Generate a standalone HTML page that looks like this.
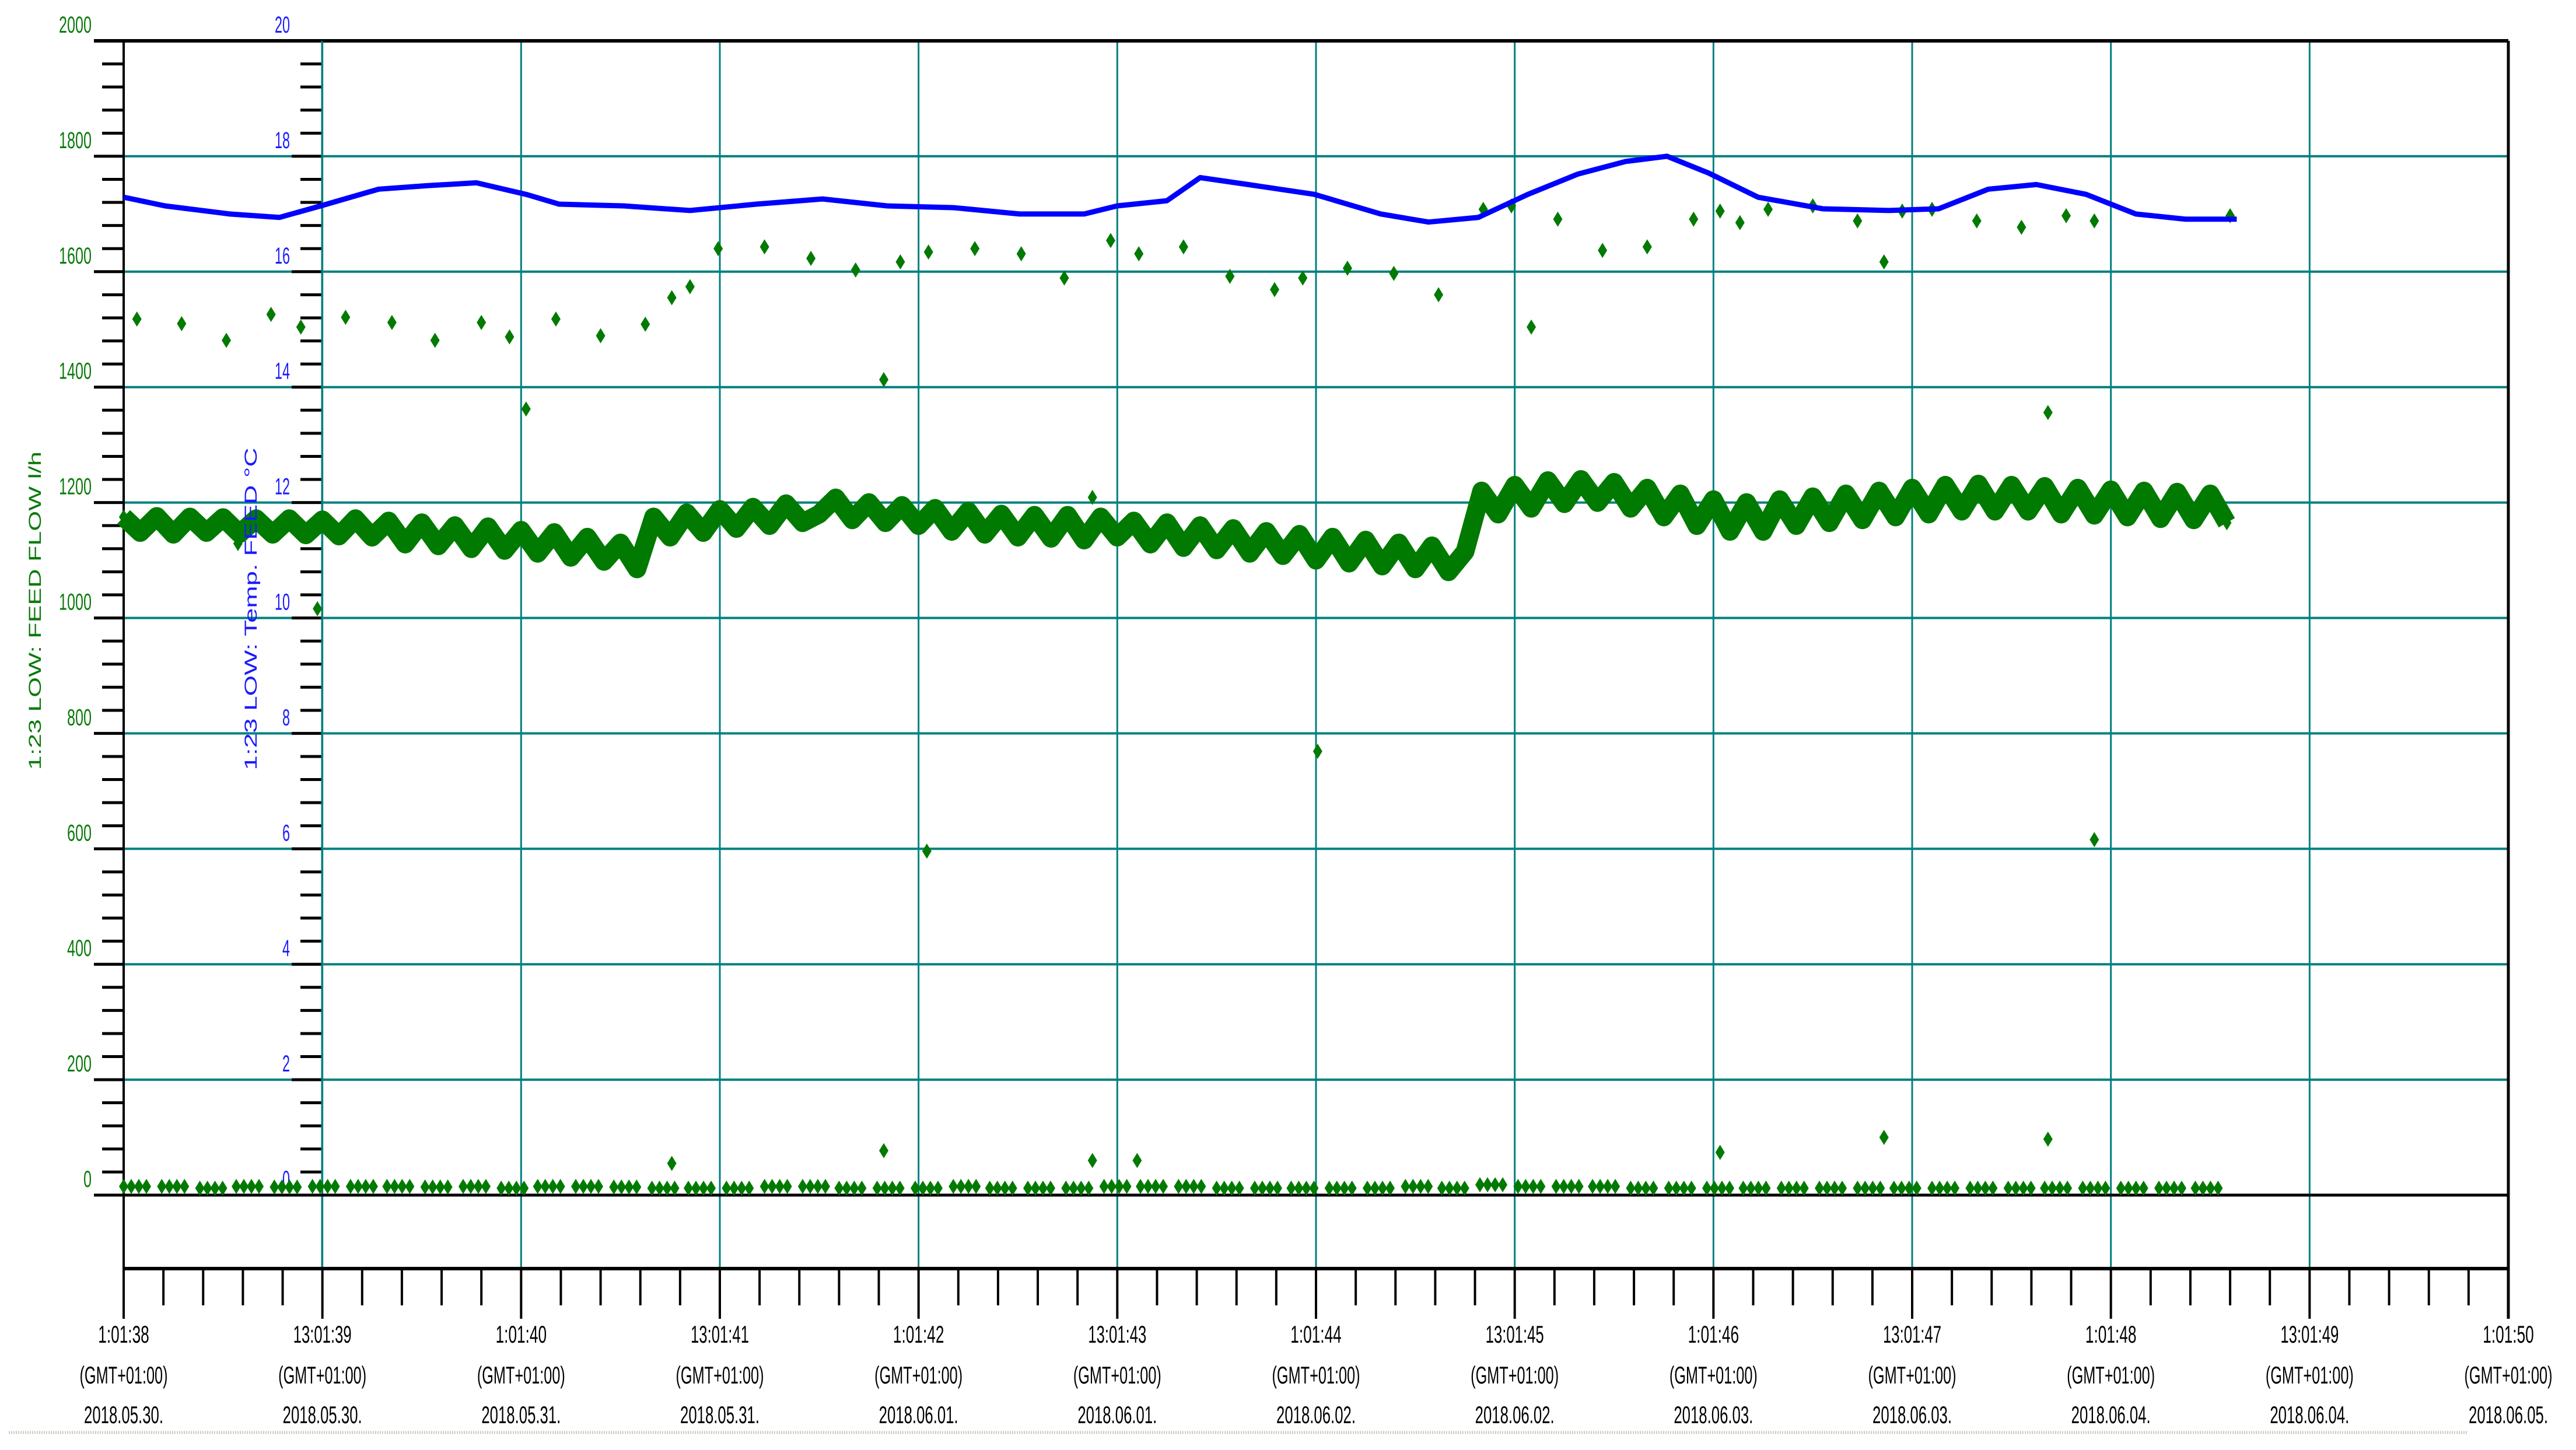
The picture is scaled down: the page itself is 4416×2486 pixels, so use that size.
<!DOCTYPE html>
<html><head><meta charset="utf-8"><style>
html,body{margin:0;padding:0;background:#fff;}
svg{display:block;}
text{font-family:"Liberation Sans Narrow","Liberation Sans",sans-serif;}
</style></head><body>
<svg id="chart" width="4416" height="2486" viewBox="0 0 4416 2486" xmlns="http://www.w3.org/2000/svg">
<g id="grid"></g>
<g id="axes"></g>
<g id="series"></g>
<text x="0" y="0" transform="translate(70,1047) rotate(-90)" text-anchor="middle" font-size="30" fill="#0a7a0a" textLength="546" lengthAdjust="spacingAndGlyphs" style="font-family:'Liberation Sans',sans-serif">1:23 LOW: FEED FLOW l/h</text>
<text x="0" y="0" transform="translate(440,1044) rotate(-90)" text-anchor="middle" font-size="30" fill="#1a1aff" textLength="553" lengthAdjust="spacingAndGlyphs" style="font-family:'Liberation Sans',sans-serif">1:23 LOW: Temp. FEED °C</text>
<line x1="15" y1="2456" x2="4230" y2="2456" stroke="#cfc8c0" stroke-width="5" stroke-dasharray="2,2"/>
</svg>
<script>
// ---- data ----
const xTickTimes = ["1:01:38","13:01:39","1:01:40","13:01:41","1:01:42","13:01:43","1:01:44","13:01:45","1:01:46","13:01:47","1:01:48","13:01:49","1:01:50"];
const xTickDates = ["2018.05.30.","2018.05.30.","2018.05.31.","2018.05.31.","2018.06.01.","2018.06.01.","2018.06.02.","2018.06.02.","2018.06.03.","2018.06.03.","2018.06.04.","2018.06.04.","2018.06.05."];
const flowTicks = [2000,1800,1600,1400,1200,1000,800,600,400,200,0];
const tempTicks = [20,18,16,14,12,10,8,6,4,2,0];
// temperature line (hours from start, degC)
const tempHours = [0,2.5,6.4,9.4,11.9,15.4,18.3,21.3,24.3,26.3,30.2,34.2,38.2,42.2,46.1,50.1,54.1,58.0,60.0,63.0,65.0,67.9,71.9,75.9,78.8,81.8,84.8,87.8,90.7,93.2,95.7,98.7,102.6,106.6,109.6,112.6,115.5,118.5,121.5,124.5,127.6];
const tempVals = [17.29,17.14,17.0,16.94,17.14,17.43,17.49,17.54,17.34,17.17,17.14,17.06,17.17,17.26,17.14,17.11,17.0,17.0,17.14,17.23,17.63,17.51,17.34,17.0,16.86,16.94,17.34,17.69,17.91,18.0,17.71,17.29,17.09,17.06,17.09,17.43,17.51,17.34,17.0,16.91,16.91];
// main flow band, one value per hour
const flowBand = [1175,1148,1176,1145,1175,1148,1174,1146,1172,1145,1172,1144,1170,1142,1172,1140,
1168,1128,1165,1125,1160,1120,1158,1117,1152,1112,1148,1105,1140,1098,1130,1085,
1175,1140,1182,1148,1188,1155,1192,1160,1198,1165,1180,1208,1170,1200,1165,1195,1160,
1190,1150,1185,1145,1180,1140,1178,1138,1178,1135,1175,1140,
1168,1128,1165,1122,1160,1118,1155,1112,1150,1108,1145,1100,
1140,1095,1135,1090,1130,1085,1125,1080,1115,
1220,1180,1230,1190,1238,1198,1240,1200,1235,1190,1225,1175,1215,1160,1205,1150,1200,1150,1205,
1160,1210,1165,1215,1170,1220,1175,1225,1180,1230,1185,1232,1185,1230,1185,
1228,1180,1225,1178,1222,1175,1220,1172,1218,1170,1215,1165];
// scattered flow points
const scatterHours = [0.8,3.5,6.2,8.9,10.7,13.4,16.2,18.8,21.6,23.3,24.3,26.1,28.8,31.5,33.1,34.2,35.9,38.7,41.5,44.2,45.9,46.9,48.6,51.4,54.2,56.8,58.5,59.6,61.3,64.0,66.8,69.5,71.2,73.9,76.7,79.4,82.1,83.8,85.0,86.6,89.3,92.0,94.8,96.4,97.6,99.3,102.0,104.7,106.3,107.4,109.2,111.9,114.6,116.2,117.3,119.0,127.2,6.9,11.7,48.5,72.1,119.0,33.1,45.9,58.5,61.2,96.4,106.3,116.2];
const scatterVals = [1518,1510,1481,1526,1504,1521,1512,1481,1512,1487,1362,1518,1489,1509,1555,1574,1640,1643,1623,1603,1413,1617,1634,1640,1631,1589,1209,1654,1631,1643,1592,1569,1589,1606,1597,1560,1708,1714,1504,1691,1637,1643,1691,1705,1685,1708,1714,1688,1617,1705,1708,1688,1677,1356,1697,1688,1697,1129,1016,596,769,616,55,77,60,60,74,100,97];
// near-zero readings: clusters of four readings
const zeroClusterHours = [0,2.3,4.6,6.8,9.1,11.4,13.7,15.9,18.2,20.5,22.8,25.0,27.3,29.6,31.9,34.1,36.4,38.7,41.0,43.2,45.5,47.8,50.1,52.3,54.6,56.9,59.2,61.4,63.7,66.0,68.3,70.5,72.8,75.1,77.4,79.6,81.9,84.2,86.5,88.7,91.0,93.3,95.6,97.8,100.1,102.4,104.7,106.9,109.2,111.5,113.8,116.0,118.3,120.6,122.9,125.1];
const zeroClusterVals = [15,15,12,15,14,15,15,15,14,15,12,15,15,14,12,12,12,15,15,12,12,12,15,12,12,12,15,15,15,12,12,12,12,12,15,12,18,15,15,15,12,12,12,12,12,12,12,12,12,12,12,12,12,12,12,12];

// ---- scales ----
const X0=212, RIGHT=4300, HOUR_PX=(4300-212)/144, Y0=70, PX_PER_FLOW=0.9895;
function xs(h){return X0+h*HOUR_PX;}
function yFlow(v){return Y0+(2000-v)*PX_PER_FLOW;}
function yTemp(t){return yFlow(t*100);}
const NS="http://www.w3.org/2000/svg";
function mk(tag,attrs,parent){const e=document.createElementNS(NS,tag);for(const k in attrs)e.setAttribute(k,attrs[k]);parent.appendChild(e);return e;}
const grid=document.getElementById('grid'),axes=document.getElementById('axes'),series=document.getElementById('series');
const XAXIS=2175, ZERO=yFlow(0);

flowTicks.forEach((v,i)=>{
  const y=yFlow(v);
  if(i>0&&v>0){const g=mk('line',{x1:X0,y1:y,x2:RIGHT,y2:y,stroke:'#008080','stroke-width':4},grid);
  
  }
  const t1=mk('line',{x1:161,y1:y,x2:X0,y2:y,stroke:'#000','stroke-width':5},axes);
  
  
  const t2=mk('line',{x1:500,y1:y,x2:552,y2:y,stroke:'#000','stroke-width':5},axes);
  
  
  const lb=mk('text',{x:157,y:y-14,'text-anchor':'end','font-size':40,fill:'#0a7a0a',textLength:String(v).length*14,lengthAdjust:'spacingAndGlyphs'},axes);
  lb.textContent=v;
  
  
  const tl=mk('text',{x:497,y:y-14,'text-anchor':'end','font-size':40,fill:'#1a1aff',textLength:String(tempTicks[i]).length*13,lengthAdjust:'spacingAndGlyphs'},axes);
  tl.textContent=tempTicks[i];
  
  
  if(i<flowTicks.length-1){
    for(let k=1;k<5;k++){const yy=yFlow(v-k*40);
      const m1=mk('line',{x1:175,y1:yy,x2:X0,y2:yy,stroke:'#000','stroke-width':5},axes);
      
      
      const m2=mk('line',{x1:515,y1:yy,x2:552,y2:yy,stroke:'#000','stroke-width':5},axes);
      
      }
  }
});
xTickTimes.forEach((lab,i)=>{
  const x=xs(i*12);
  if(i>0&&i<xTickTimes.length-1){const g=mk('line',{x1:x,y1:Y0,x2:x,y2:XAXIS,stroke:'#008080','stroke-width':3},grid);
  
  }
  const t=mk('line',{x1:x,y1:XAXIS,x2:x,y2:2261,stroke:'#000','stroke-width':4},axes);
  
  
  if(i<xTickTimes.length-1){for(let k=1;k<5;k++){const xx=x+k*HOUR_PX*12/5;
    const m=mk('line',{x1:xx,y1:XAXIS,x2:xx,y2:2238,stroke:'#000','stroke-width':4},axes);
    
    }}
  const l1=mk('text',{x:x,y:2302,'text-anchor':'middle','font-size':42,fill:'#000',textLength:lab.length*12.5,lengthAdjust:'spacingAndGlyphs'},axes);
  l1.textContent=lab;
  
  
  const l2=mk('text',{x:x,y:2372,'text-anchor':'middle','font-size':42,fill:'#000',textLength:151,lengthAdjust:'spacingAndGlyphs'},axes);
  l2.textContent='(GMT+01:00)';
  
  
  const l3=mk('text',{x:x,y:2440,'text-anchor':'middle','font-size':42,fill:'#000',textLength:136,lengthAdjust:'spacingAndGlyphs'},axes);
  l3.textContent=xTickDates[i];
  
  
});
[[161,Y0,RIGHT,Y0,6],[RIGHT,Y0,RIGHT,2261,5],[X0,Y0,X0,2261,4],[552,Y0,552,XAXIS,3],[X0,XAXIS,RIGHT,XAXIS,6],[161,ZERO,RIGHT,ZERO,5]].forEach(a=>{
  const l=mk('line',{x1:a[0],y1:a[1],x2:a[2],y2:a[3],stroke:a[0]===552?'#008080':'#000','stroke-width':a[4]},axes);
  
  
});
function diamond(cx,cy,parent){
  return mk('polygon',{points:`${cx},${cy-13} ${cx+8},${cy} ${cx},${cy+13} ${cx-8},${cy}`,fill:'#007a00'},parent);
}
const bandPts=flowBand.map((v,h)=>xs(h)+','+yFlow(v)).join(' ');
const band=mk('polyline',{points:bandPts,fill:'none',stroke:'#007a00','stroke-width':32,'stroke-linejoin':'round'},series);


flowBand.forEach((v,h)=>{const d=diamond(xs(h),yFlow(v),series);
  
  });
scatterHours.forEach((h,i)=>{const d=diamond(xs(h),yFlow(scatterVals[i]),series);
  
  });
zeroClusterHours.forEach((h,i)=>{for(let k=0;k<4;k++){const d=diamond(xs(h)+k*13,yFlow(zeroClusterVals[i]),series);
  
  }});
const tl=mk('polyline',{points:tempHours.map((h,i)=>xs(h)+','+yTemp(tempVals[i])).join(' '),fill:'none',stroke:'#0000ff','stroke-width':9,'stroke-linejoin':'round'},series);


</script>
</body></html>
